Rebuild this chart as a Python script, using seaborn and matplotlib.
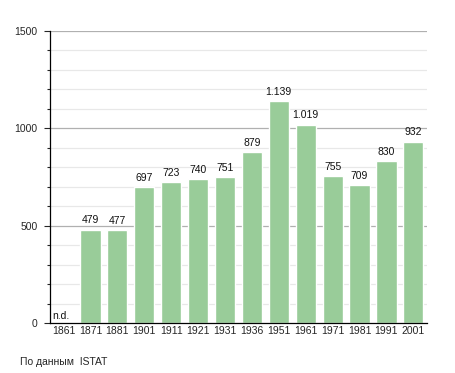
import matplotlib
matplotlib.use("Agg")
import matplotlib.pyplot as plt
import seaborn as sns
import numpy as np

years = ["1861", "1871", "1881", "1901", "1911", "1921", "1931",
         "1936", "1951", "1961", "1971", "1981", "1991", "2001"]
population = [np.nan, 479, 477, 697, 723, 740, 751,
              879, 1139, 1019, 755, 709, 830, 932]
labels = ["n.d.", "479", "477", "697", "723", "740", "751",
          "879", "1.139", "1.019", "755", "709", "830", "932"]

sns.set_style("white")
plt.rcParams['font.family'] = ['Liberation Sans', 'DejaVu Sans']

fig = plt.figure(figsize=(4.55, 3.73), dpi=100)
ax = fig.add_axes([0.11, 0.134, 0.828, 0.783])

# grid
for v in range(100, 1600, 100):
    if v % 500 == 0:
        ax.axhline(v, color="#b0b0b0", lw=0.9, zorder=0)
    else:
        ax.axhline(v, color="#e8e8e8", lw=0.9, zorder=0)

heights = [0 if np.isnan(p) else p for p in population]
sns.barplot(x=years, y=heights, color="#99cc99", saturation=1,
            width=0.75, ax=ax, zorder=2)

for i, (h, lab) in enumerate(zip(heights, labels)):
    if h == 0:
        ax.text(i - 0.42, 12, lab, ha="left", va="bottom", fontsize=7.5, color="#111111")
    else:
        ax.text(i, h + 22, lab, ha="center", va="bottom", fontsize=7.5, color="#111111")

ax.set_ylim(0, 1500)
ax.set_xlim(-0.5, len(years) - 0.5)
ax.set_yticks([0, 500, 1000, 1500])
ax.set_yticks(range(0, 1500, 100), minor=True)
ax.tick_params(axis="y", which="major", length=4, width=0.8, direction="out",
               left=True, labelsize=7.5, pad=5)
ax.tick_params(axis="y", which="minor", length=2, width=0.8, direction="out", left=True)
ax.tick_params(axis="x", length=0, labelsize=7.5, pad=2.5)

for s in ["top", "right"]:
    ax.spines[s].set_visible(False)
ax.spines["left"].set_color("black")
ax.spines["bottom"].set_color("black")
ax.spines["left"].set_linewidth(0.9)
ax.spines["bottom"].set_linewidth(0.9)

fig.text(0.044, 0.03, "По данным  ISTAT", fontsize=7.5, ha="left", va="center")

fig.savefig("out.png", dpi=100)
